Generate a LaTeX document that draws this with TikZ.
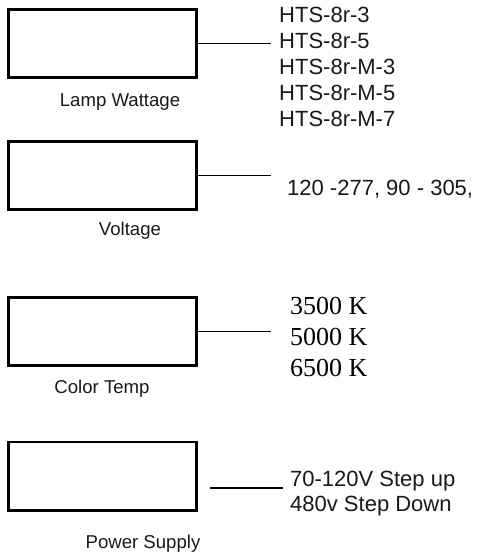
\documentclass[tikz,border=0pt]{standalone}
\usepackage{fontspec}
\setmainfont{Liberation Sans}
\newfontfamily\timesf{Liberation Serif}
\begin{document}
\begin{tikzpicture}[x=1pt,y=-1pt,
 box/.style={draw, line width=2.7pt, minimum width=188.3pt, minimum height=68.3pt, inner sep=0pt},
 conn/.style={line width=1.4pt},
 lbl/.style={font=\fontsize{18.6}{21}\selectfont, inner sep=0pt, anchor=base, text=black!90},
 vals/.style={font=\fontsize{22}{26}\selectfont, inner sep=0pt, anchor=north west, align=left, text=black!90},
 tvals/.style={font=\timesf\fontsize{26}{31}\selectfont, inner sep=0pt, anchor=north west, align=left},
 pvals/.style={font=\fontsize{22}{25}\selectfont, inner sep=0pt, anchor=north west, align=left, text=black!90},
]
\useasboundingbox (0,0) rectangle (477,552);

% Lamp Wattage
\node[box] (b1) at (102.5,43.5) {};
\node[lbl] (l1) at (120,106) {Lamp Wattage};
\coordinate (c1) at (271,43.5);
\draw[conn] (b1.east) -- (c1);
\node[vals] (v1) at (279,7) {HTS-8r-3\\HTS-8r-5\\HTS-8r-M-3\\HTS-8r-M-5\\HTS-8r-M-7};

% Voltage
\node[box] (b2) at (102.5,175.5) {};
\node[lbl] (l2) at (130,235) {Voltage};
\coordinate (c2) at (271,175.5);
\draw[conn] (b2.east) -- (c2);
\node[vals, anchor=base west] (v2) at (287,195) {120 -277, 90 - 305,};

% Color Temp
\node[box] (b3) at (102.5,331.5) {};
\node[lbl] (l3) at (102,393) {Color Temp};
\coordinate (c3) at (271,331.5);
\draw[conn] (b3.east) -- (c3);
\node[tvals] (v3) at (290,297.5) {3500 K\\5000 K\\6500 K};

% Power Supply
\node[box] (b4) at (102.5,476) {};
\node[lbl] (l4) at (143,548) {Power Supply};
\coordinate (c4a) at (210,488);
\coordinate (c4b) at (283,488);
\draw[conn] (c4a) -- (c4b);
\node[pvals] (v4) at (290,471.2) {70-120V Step up\\480v Step Down};
\end{tikzpicture}
\end{document}
